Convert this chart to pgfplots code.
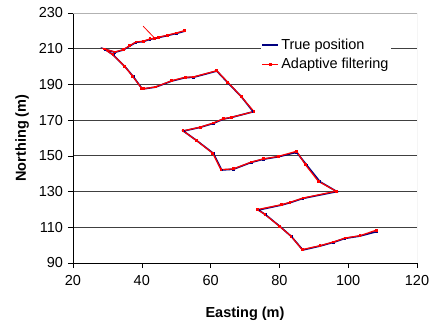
\documentclass[border=0pt]{standalone}
\usepackage{pgfplots}
\pgfplotsset{compat=1.18}
\usepackage{fontspec}
\setmainfont{Liberation Sans}
\definecolor{trueblue}{RGB}{0,0,128}
\definecolor{filtred}{RGB}{255,0,0}
\pgfplotstableread{
x y
52.6 219.9
50.1 218.6
47.5 217.4
44.8 216.2
42.4 215.3
40.4 214.0
38.3 213.6
36.5 211.5
34.6 209.3
32.2 208.0
29.3 209.7
31.7 206.5
35.1 200.0
37.5 194.4
40.0 187.8
40.5 187.5
44.0 188.5
48.7 191.9
52.6 193.8
55.0 194.0
61.8 197.5
65.0 191.0
69.0 183.0
72.4 174.7
66.0 171.5
63.7 170.6
60.8 168.2
57.0 166.0
52.1 163.9
56.0 158.5
60.8 151.4
63.2 142.1
66.6 142.5
71.9 146.4
75.3 148.1
79.7 149.5
85.0 152.0
87.9 144.9
91.8 135.5
96.7 130.0
86.9 126.2
83.1 123.8
80.7 122.5
73.9 119.7
76.0 117.0
80.2 110.4
83.5 104.8
86.8 97.3
91.8 99.5
95.7 101.6
99.1 103.8
103.4 105.1
108.3 107.6
}\truepos
\pgfplotstableread{
x y
52.4 220.1
50.0 218.8
47.5 217.6
44.8 216.4
43.8 215.8
42.4 215.5
40.4 214.2
38.3 213.8
36.5 211.7
34.6 209.5
32.2 208.2
29.1 209.8
31.6 206.6
35.0 200.1
37.4 194.5
39.9 187.9
40.5 187.6
44.0 188.6
48.7 192.1
52.6 194.0
55.0 194.2
61.8 197.7
65.0 191.2
68.9 183.2
72.6 174.8
66.0 171.6
63.7 170.8
60.8 168.4
57.0 166.1
52.0 164.0
55.9 158.6
60.6 151.5
63.0 142.3
66.6 142.7
71.9 146.6
75.3 148.3
79.7 149.7
85.0 152.6
87.5 145.2
91.3 135.8
96.5 130.2
86.9 126.4
83.1 124.0
80.7 122.7
73.6 119.9
75.8 117.2
80.0 110.6
83.4 105.0
86.6 97.5
91.8 99.7
95.7 101.8
99.1 104.0
103.4 105.3
108.2 108.4
}\filtpos
\begin{document}
\fontsize{14.5}{16}\selectfont
\begin{tikzpicture}
\useasboundingbox (-73pt,-59pt) rectangle (357pt,263pt);
\begin{axis}[
  at={(0,0)}, anchor=south west,
  scale only axis, width=344pt, height=250pt,
  xmin=20, xmax=120, ymin=90, ymax=230,
  xtick={20,40,...,120}, ytick={90,110,...,210},
  extra y ticks={230}, extra y tick style={grid style={gray!60, line width=0.8pt}},
  tick align=outside, major tick length=5pt,
  tick style={black, line width=0.6pt},
  axis line style={line width=0.8pt},
  axis x line*=bottom, axis y line*=left,
  ymajorgrids, grid style={black!75, line width=0.8pt},
  /pgf/number format/assume math mode=true,
  tick label style={font=\fontsize{14.5}{16}\selectfont},
  xlabel={\bfseries Easting (m)}, ylabel={\bfseries Northing (m)},
  label style={font=\fontsize{14.5}{16}\selectfont},
  xlabel style={yshift=-12pt}, ylabel style={yshift=-10pt},
  xticklabel style={yshift=-2pt},
  legend style={draw=none, fill=white, at={(0.545,0.91)}, anchor=north west,
    font=\fontsize{14.5}{16}\selectfont, row sep=3pt, inner sep=1pt,
    legend cell align=left},
  legend image code/.code={
    \draw[#1] (0pt,0pt) -- (16pt,0pt);
    \draw[#1, mark repeat=2, mark phase=2] plot coordinates {(0pt,0pt) (8pt,0pt) (16pt,0pt)};
  },
]
\draw[gray!60, line width=0.8pt] (rel axis cs:1,0) -- (rel axis cs:1,1);
\addplot[trueblue, line width=1.6pt, mark=square*, mark size=0.5pt] table {\truepos};
\addlegendentry{True position}
\addplot[filtred, line width=1.2pt, mark=square*, mark size=0.8pt] table {\filtpos};
\addlegendentry{Adaptive filtering}
\addplot[filtred, line width=0.8pt, forget plot] coordinates {(40.4,222.6) (43.8,215.8)};
\end{axis}
\end{tikzpicture}
\end{document}
